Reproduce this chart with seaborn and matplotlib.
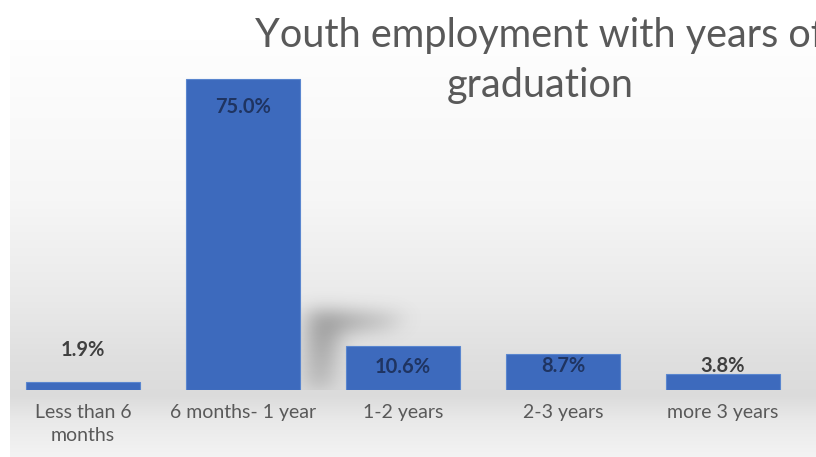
import numpy as np
import pandas as pd
import matplotlib
matplotlib.use("Agg")
import matplotlib.pyplot as plt
from matplotlib.path import Path
import seaborn as sns

# Chart data
categories = ["Less than 6\nmonths", "6 months- 1 year", "1-2 years", "2-3 years", "more 3 years"]
values = [1.9, 75.0, 10.6, 8.7, 3.8]
value_labels = ["1.9%", "75.0%", "10.6%", "8.7%", "3.8%"]
title_lines = ["Youth employment with years of", "graduation"]

# Label placement: offset from bar top (pixels); negative means inside the bar
label_offsets = [32, -28, -21, -12, 8]

sns.set_theme(style="white")
plt.rcParams["font.family"] = ["Lato", "DejaVu Sans"]

W, H = 816, 457
fig = plt.figure(figsize=(W / 100, H / 100), dpi=100)
fig.patch.set_facecolor("white")

# Plot-area background: soft vertical grey gradient
bg = fig.add_axes([10 / W, 0, (W - 10) / W, (H - 40) / H])
stops_y = np.array([0, 160, 260, 320, 355, 380, 417])          # px from top of panel
stops_v = np.array([0.995, 0.965, 0.915, 0.875, 0.86, 0.915, 0.955])
rows = np.interp(np.arange(H - 40), stops_y, stops_v)
grad = np.repeat(rows[:, None], 8, axis=1)
bg.imshow(np.dstack([grad, grad, grad]), aspect="auto", extent=[0, 1, 0, 1], origin="upper")
bg.set_axis_off()

ax = fig.add_axes([3 / W, (H - 390) / H, 800 / W, 331.8 / H])
ax.set_facecolor("none")

df = pd.DataFrame({"period": categories, "share": values})
sns.barplot(data=df, x="period", y="share", color="#3d6abd", saturation=1,
            width=0.71, ax=ax, edgecolor="#5a86cf", linewidth=0.8, zorder=3)


def blur(a, n, spread):
    k = np.exp(-np.linspace(-spread, spread, n) ** 2)
    k /= k.sum()
    a = np.apply_along_axis(lambda m: np.convolve(m, k, mode="same"), 0, a)
    a = np.apply_along_axis(lambda m: np.convolve(m, k, mode="same"), 1, a)
    return a


# Soft cast shadow behind the tallest bar
tall = int(np.argmax(values))
bar = ax.patches[tall]
x0 = bar.get_x() + bar.get_width()
nx, ny = 360, 300
sx0, sx1, sy0, sy1 = x0 - 0.3, x0 + 1.5, -8.0, 36.0
gx = np.linspace(sx0, sx1, nx)
gy = np.linspace(sy1, sy0, ny)
XX, YY = np.meshgrid(gx, gy)
poly = Path([(x0 + 0.05, 0), (x0 + 0.05, 19.2), (x0 + 0.66, 18.4), (x0 + 0.58, 14.6),
             (x0 + 0.24, 13.8), (x0 + 0.18, 0)])
mask = poly.contains_points(np.c_[XX.ravel(), YY.ravel()]).reshape(ny, nx).astype(float)
# fade the shadow toward its far end and toward the floor
mask *= np.clip(1.25 - (XX - x0) / 0.7, 0, 1)
mask *= np.clip(0.55 + YY / 30.0, 0, 1)
mask = blur(mask, 81, 2.0)
shadow = np.zeros((ny, nx, 4))
shadow[..., :3] = 0.33
shadow[..., 3] = np.clip(mask * 0.5, 0, 1)
ax.imshow(shadow, extent=[sx0, sx1, sy0, sy1], aspect="auto", zorder=1, interpolation="bilinear")
ax.set_xlim(-0.5, 4.5)
ax.set_ylim(0, 80)

for i, (v, lab, off) in enumerate(zip(values, value_labels, label_offsets)):
    inside = off < 0
    ax.annotate(lab, xy=(i, v), xytext=(0, off), textcoords="offset pixels",
                ha="center", va="center", fontsize=14.5, fontweight="bold",
                color="#1f3461" if inside else "#3f3f3f", zorder=5)

for s in ax.spines.values():
    s.set_visible(False)
ax.set_yticks([])
ax.set_xlabel("")
ax.set_ylabel("")
ax.tick_params(axis="x", length=0, pad=10, labelsize=14, labelcolor="#595959")
for t in ax.get_xticklabels():
    t.set_linespacing(1.45)

for line, base in zip(title_lines, [47, 97]):
    fig.text(540 / W, 1 - base / H, line, ha="center", va="baseline", fontsize=28.5,
             color="#595959")

fig.savefig("out.png", dpi=100)
